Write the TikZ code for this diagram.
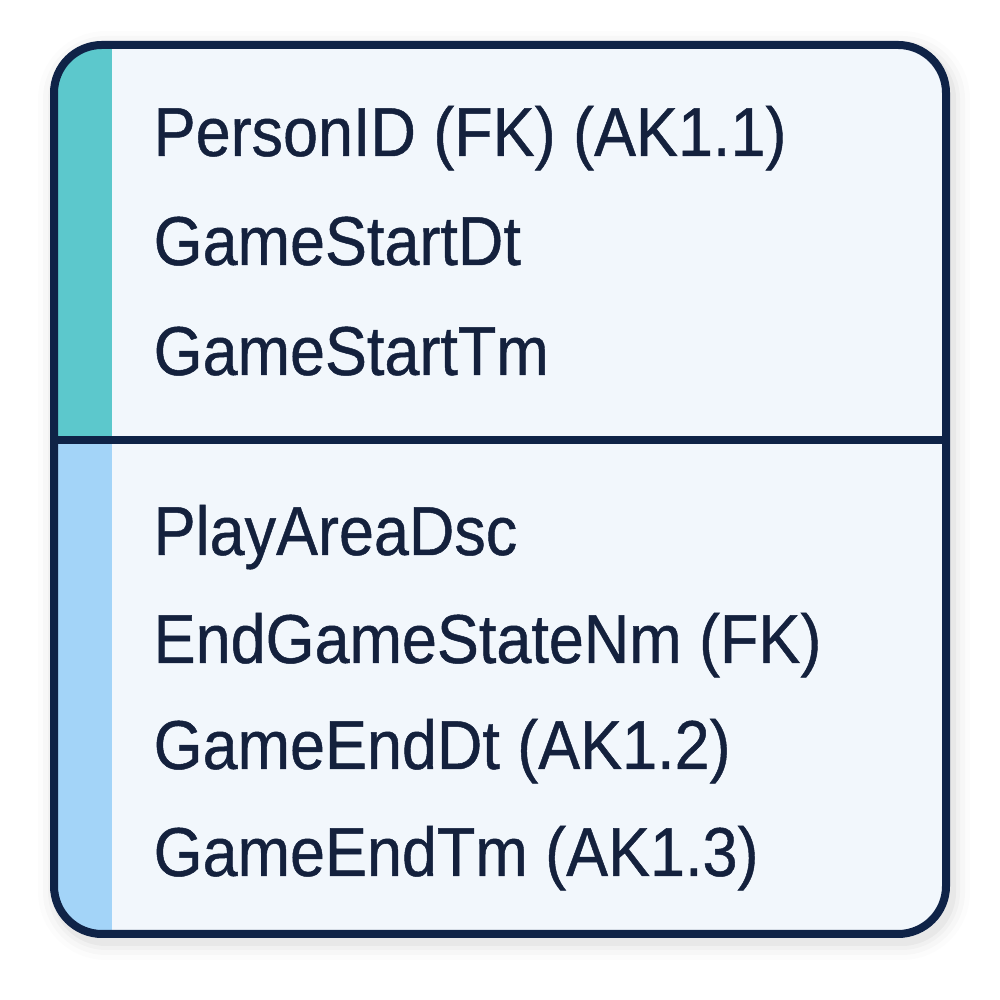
\documentclass[tikz,border=0pt]{standalone}
\usepackage{fontspec}
\setmainfont{Liberation Sans}
\newfontfamily\attrfont[FakeBold=0.7]{Liberation Sans}
\usetikzlibrary{positioning}
\definecolor{navy}{HTML}{0F2347}
\definecolor{inkblue}{HTML}{14213D}
\definecolor{paper}{HTML}{F2F7FC}
\definecolor{keyteal}{HTML}{5CC8CC}
\definecolor{attrblue}{HTML}{A3D4F8}
\newcommand{\attrtext}[1]{\scalebox{1}[1.1]{#1}}
\tikzset{
    entbox/.style = {rounded corners=0.48cm},
    entborder/.style = {entbox, line width=0.08cm, draw=navy},
    divline/.style = {-, line width=0.08cm, navy},
    attr/.style = {anchor=base west, inner sep=0pt, text=inkblue, font=\attrfont\fontsize{17.9}{21}\selectfont},
}
\begin{document}
\begin{tikzpicture}
\useasboundingbox (0,0) rectangle (10,10);
% soft shadow
\foreach \w/\o in {0.40/0.012, 0.30/0.018, 0.20/0.025, 0.12/0.035}
    \draw[entbox, line width=\w cm, black, opacity=\o] (0.58,0.60) rectangle (9.50,9.49);
% body
\fill[entbox, paper] (0.54,0.66) rectangle (9.46,9.55);
\begin{scope}
    \clip[entbox] (0.54,0.66) rectangle (9.46,9.55);
    \fill[keyteal] (0.54,5.60) rectangle (1.12,9.55);
    \fill[attrblue] (0.54,0.66) rectangle (1.12,5.60);
\end{scope}
\coordinate (divw) at (0.54,5.60);
\coordinate (dive) at (9.46,5.60);
\draw[divline] (divw) -- (dive);
\draw[entborder] (0.54,0.66) rectangle (9.46,9.55);
% key attributes
\node[attr] at (1.53,8.44) (pid) {\attrtext{PersonID (FK) (AK1.1)}};
\node[attr] at (1.53,7.35) (gsd) {\attrtext{GameStartDt}};
\node[attr] at (1.53,6.25) (gst) {\attrtext{GameStartTm}};
% non-key attributes
\node[attr] at (1.53,4.45) (pad) {\attrtext{PlayAreaDsc}};
\node[attr] at (1.53,3.37) (egs) {\attrtext{EndGameStateNm (FK)}};
\node[attr] at (1.53,2.31) (ged) {\attrtext{GameEndDt (AK1.2)}};
\node[attr] at (1.53,1.24) (get) {\attrtext{GameEndTm (AK1.3)}};
\end{tikzpicture}
\end{document}
